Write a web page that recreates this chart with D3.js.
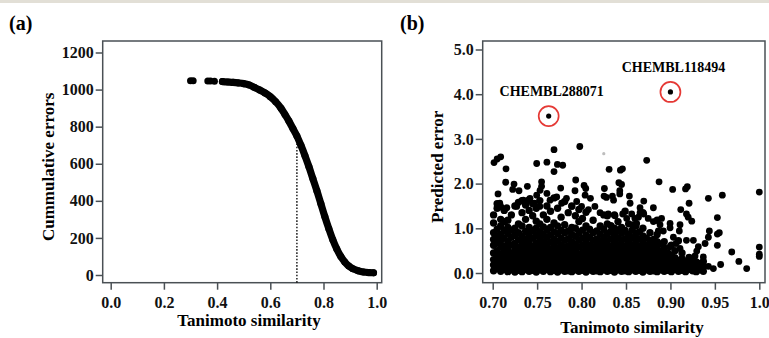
<!DOCTYPE html>
<html>
<head>
<meta charset="utf-8">
<script src="https://cdn.jsdelivr.net/npm/d3@7"></script>
<style>
  html, body { margin: 0; padding: 0; background: #fff; }
  svg { display: block; font-family: "Liberation Serif", "Times New Roman", serif; font-weight: bold; }
</style>
</head>
<body>
<svg id="chart" width="769" height="338"></svg>
<script>
// ---- panel (a): cumulative errors vs similarity ----
const curveIsolated = [[0.300, 1047], [0.310, 1047], [0.365, 1046], [0.375, 1046], [0.390, 1045]];
const curvePoints = [
  [0.420, 1043], [0.440, 1041], [0.460, 1039], [0.480, 1036], [0.500, 1032],
  [0.520, 1025], [0.540, 1012], [0.560, 998], [0.580, 982], [0.600, 962],
  [0.620, 935], [0.640, 900], [0.655, 866], [0.670, 830], [0.685, 790],
  [0.700, 750], [0.715, 700], [0.730, 645], [0.745, 585], [0.760, 520],
  [0.775, 455], [0.790, 385], [0.805, 315], [0.820, 250], [0.835, 190],
  [0.850, 140], [0.865, 100], [0.880, 70], [0.895, 48], [0.910, 34],
  [0.930, 23], [0.950, 16], [0.970, 13], [0.988, 12]
];
const cutoffSimilarity = 0.70;
const cutoffErrors = 750;
const ticksAx = [0, 0.2, 0.4, 0.6, 0.8, 1.0];
const ticksAy = [0, 200, 400, 600, 800, 1000, 1200];

// ---- panel (b): predicted error vs similarity ----
const scatterSparse = [
  [0.7015, 2.47], [0.705, 2.55], [0.709, 2.60], [0.715, 2.33], [0.7146, 2.03], [0.706, 1.77],
  [0.724, 1.99], [0.7225, 1.87], [0.7296, 1.84], [0.739, 1.94], [0.7495, 2.45], [0.761, 2.48],
  [0.769, 2.76], [0.769, 2.27], [0.7728, 2.43], [0.7788, 2.41], [0.7765, 1.90], [0.755, 2.04],
  [0.755, 1.94], [0.7533, 1.85], [0.7495, 1.74], [0.761, 1.78], [0.7934, 2.08], [0.798, 2.83],
  [0.7926, 1.84], [0.8028, 1.96], [0.8047, 1.89], [0.810, 1.67], [0.804, 1.74], [0.8257, 1.89],
  [0.831, 2.32], [0.8253, 1.72], [0.828, 1.69], [0.8347, 1.72], [0.836, 1.63], [0.8437, 2.30],
  [0.846, 2.33], [0.842, 2.02], [0.845, 1.98], [0.843, 1.84], [0.8538, 1.72], [0.843, 1.77],
  [0.8733, 2.52], [0.870, 1.61], [0.870, 1.32], [0.8808, 1.46], [0.8872, 2.04], [0.9025, 1.87],
  [0.917, 1.88], [0.919, 1.93], [0.921, 1.56], [0.918, 1.32], [0.920, 1.25], [0.924, 1.16],
  [0.9116, 1.42], [0.9427, 1.67], [0.9584, 1.74], [1.000, 1.81], [0.9528, 1.24], [0.955, 0.90],
  [0.9528, 0.87], [0.9438, 0.94], [0.9427, 0.80], [0.939, 0.66], [0.9314, 0.59], [0.9528, 0.62],
  [0.9565, 0.19], [0.969, 0.47], [0.977, 0.26], [0.9858, 0.10], [1.000, 0.58], [1.000, 0.42],
  [1.000, 0.37], [0.9108, 1.08], [0.910, 0.94], [0.9033, 0.80], [0.9063, 0.66], [0.9108, 0.55],
  [0.918, 0.73], [0.9258, 0.73], [0.9277, 0.38], [0.9314, 0.22], [0.937, 0.36], [0.9427, 0.15],
  [0.9483, 0.10], [0.935, 0.12], [0.9296, 0.49], [0.8996, 1.01], [0.899, 0.58], [0.896, 0.29],
  [0.9033, 0.22], [0.9108, 0.15], [0.920, 0.12], [0.926, 0.15], [0.890, 1.22], [0.892, 0.94],
  [0.8864, 0.94], [0.8808, 1.15], [0.8658, 1.46], [0.864, 1.25], [0.862, 1.11], [0.8564, 1.32],
  [0.858, 1.08], [0.8508, 1.22], [0.8546, 1.56],
  [0.708, 1.56], [0.716, 1.46], [0.727, 1.49], [0.7345, 1.63], [0.742, 1.67], [0.747, 1.56],
  [0.753, 1.49], [0.7645, 1.63], [0.772, 1.70], [0.7776, 1.56], [0.783, 1.67], [0.789, 1.49],
  [0.7945, 1.60], [0.800, 1.49], [0.8077, 1.42], [0.815, 1.49], [0.8208, 1.35], [0.830, 1.32],
  [0.8377, 1.28], [0.8463, 1.32], [0.860, 1.22], [0.8658, 1.35], [0.875, 1.22], [0.8883, 1.08],
  [0.8996, 1.11]
];
// dense mass near the bottom, read column by column
const scatterDense = [
  [0.701, [0.05, 0.18, 0.30, 0.45, 0.62, 0.75, 0.90, 1.12, 1.30]],
  [0.705, [0.10, 0.22, 0.36, 0.50, 0.68, 0.82, 0.98, 1.45, 1.55]],
  [0.709, [0.04, 0.15, 0.28, 0.42, 0.58, 0.72, 0.86, 1.05, 1.20, 1.48]],
  [0.713, [0.08, 0.20, 0.33, 0.47, 0.60, 0.78, 0.95, 1.15, 1.40]],
  [0.717, [0.03, 0.14, 0.26, 0.40, 0.55, 0.70, 0.88, 1.02, 1.18]],
  [0.721, [0.07, 0.19, 0.31, 0.45, 0.63, 0.80, 0.96, 1.30]],
  [0.725, [0.02, 0.12, 0.25, 0.38, 0.52, 0.66, 0.84, 1.00, 1.50]],
  [0.729, [0.06, 0.18, 0.30, 0.44, 0.57, 0.74, 0.90, 1.10, 1.58]],
  [0.733, [0.03, 0.15, 0.27, 0.40, 0.54, 0.68, 0.82, 1.05, 1.35, 1.62]],
  [0.737, [0.08, 0.21, 0.34, 0.48, 0.62, 0.76, 0.93, 1.20, 1.52]],
  [0.741, [0.04, 0.14, 0.26, 0.39, 0.55, 0.70, 0.86, 1.02, 1.40, 1.64]],
  [0.745, [0.06, 0.18, 0.32, 0.46, 0.60, 0.78, 0.95, 1.28, 1.55]],
  [0.749, [0.02, 0.13, 0.25, 0.38, 0.52, 0.67, 0.84, 1.00, 1.16, 1.45]],
  [0.753, [0.07, 0.20, 0.33, 0.47, 0.61, 0.77, 0.92, 1.10, 1.62]],
  [0.757, [0.04, 0.15, 0.28, 0.41, 0.56, 0.70, 0.86, 1.03, 1.30]],
  [0.761, [0.08, 0.22, 0.35, 0.50, 0.64, 0.80, 0.97, 1.20, 1.50]],
  [0.765, [0.03, 0.14, 0.26, 0.40, 0.54, 0.69, 0.85, 1.02, 1.38]],
  [0.769, [0.06, 0.18, 0.31, 0.45, 0.60, 0.75, 0.92, 1.12, 1.68]],
  [0.773, [0.02, 0.13, 0.27, 0.41, 0.55, 0.71, 0.88, 1.05, 1.45]],
  [0.777, [0.07, 0.20, 0.34, 0.48, 0.62, 0.78, 0.95, 1.25]],
  [0.781, [0.04, 0.16, 0.29, 0.43, 0.57, 0.73, 0.90, 1.08, 1.60]],
  [0.785, [0.05, 0.19, 0.32, 0.46, 0.61, 0.77, 0.94, 1.35]],
  [0.789, [0.03, 0.14, 0.27, 0.40, 0.55, 0.70, 0.86, 1.02, 1.50]],
  [0.793, [0.07, 0.21, 0.35, 0.50, 0.65, 0.82, 1.00, 1.28]],
  [0.797, [0.04, 0.15, 0.28, 0.42, 0.58, 0.74, 0.90, 1.15, 1.42]],
  [0.801, [0.06, 0.18, 0.31, 0.46, 0.62, 0.78, 0.96, 1.22]],
  [0.805, [0.02, 0.13, 0.26, 0.40, 0.54, 0.70, 0.85, 1.05, 1.36]],
  [0.809, [0.07, 0.20, 0.34, 0.48, 0.63, 0.80, 0.98]],
  [0.813, [0.04, 0.16, 0.29, 0.43, 0.58, 0.73, 0.90, 1.18]],
  [0.817, [0.05, 0.19, 0.32, 0.46, 0.61, 0.76, 0.94]],
  [0.821, [0.03, 0.14, 0.27, 0.41, 0.56, 0.71, 0.87, 1.05]],
  [0.825, [0.07, 0.21, 0.35, 0.49, 0.64, 0.80, 0.98, 1.30]],
  [0.829, [0.04, 0.15, 0.28, 0.42, 0.57, 0.72, 0.88, 1.10, 1.28]],
  [0.833, [0.06, 0.18, 0.31, 0.45, 0.60, 0.76, 0.93, 1.06]],
  [0.837, [0.02, 0.13, 0.26, 0.40, 0.55, 0.70, 0.85, 1.00, 1.30]],
  [0.841, [0.07, 0.20, 0.34, 0.48, 0.62, 0.78, 0.95, 1.15]],
  [0.845, [0.04, 0.16, 0.29, 0.43, 0.58, 0.73, 0.89, 1.02]],
  [0.849, [0.05, 0.19, 0.32, 0.46, 0.61, 0.77, 0.95, 1.38]],
  [0.853, [0.03, 0.14, 0.27, 0.41, 0.55, 0.70, 0.86, 1.10]],
  [0.857, [0.07, 0.21, 0.34, 0.48, 0.63, 0.79, 0.96]],
  [0.861, [0.04, 0.15, 0.28, 0.42, 0.57, 0.72, 0.88, 1.05]],
  [0.865, [0.06, 0.18, 0.31, 0.45, 0.60, 0.76, 0.92]],
  [0.869, [0.02, 0.13, 0.26, 0.40, 0.54, 0.68, 0.83, 1.00, 1.35]],
  [0.873, [0.07, 0.20, 0.33, 0.47, 0.62, 0.78]],
  [0.877, [0.04, 0.16, 0.29, 0.43, 0.57, 0.72, 0.90]],
  [0.881, [0.05, 0.19, 0.32, 0.46, 0.61, 0.75]],
  [0.885, [0.03, 0.14, 0.27, 0.40, 0.55, 0.70, 0.86, 1.18]],
  [0.889, [0.07, 0.21, 0.34, 0.48, 0.65]],
  [0.893, [0.04, 0.16, 0.29, 0.42, 0.56, 0.70]],
  [0.897, [0.06, 0.18, 0.31, 0.45]],
  [0.901, [0.03, 0.13, 0.26, 0.40, 0.62]],
  [0.905, [0.08, 0.20, 0.34, 0.50]],
  [0.909, [0.04, 0.15, 0.28, 0.72]],
  [0.913, [0.06, 0.19, 0.32, 0.45]],
  [0.917, [0.03, 0.14, 0.26]],
  [0.921, [0.08, 0.20, 0.35]],
  [0.925, [0.05, 0.16, 0.28]],
  [0.929, [0.03, 0.12, 0.25]],
  [0.933, [0.07, 0.18]],
  [0.937, [0.04, 0.15, 0.26]]
];
const highlighted = [
  { id: 'CHEMBL288071', sim: 0.763, err: 3.51 },
  { id: 'CHEMBL118494', sim: 0.900, err: 4.05 }
];
const fadedPoint = [0.825, 2.67];
const ticksBx = [0.70, 0.75, 0.80, 0.85, 0.90, 0.95, 1.0];
const ticksBxLabels = ['0.70', '0.75', '0.80', '0.85', '0.90', '0.95', '1.0'];
const ticksBy = [0, 1, 2, 3, 4, 5];

const svg = d3.select('#chart');
const frameColor = '#4a5055';

// thin grey strip at the very top
svg.append('rect').attr('x', 0).attr('y', 0).attr('width', 769).attr('height', 3).attr('fill', '#e2dfd6');

function drawFrame(box) {
  svg.append('rect')
    .attr('x', box.left).attr('y', box.top)
    .attr('width', box.right - box.left).attr('height', box.bottom - box.top)
    .attr('fill', 'none').attr('stroke', frameColor).attr('stroke-width', 1.5);
}

function styleAxis(g) {
  g.select('.domain').remove();
  g.selectAll('.tick line').attr('stroke', frameColor).attr('stroke-width', 1.5);
  g.selectAll('.tick text')
    .attr('fill', '#111')
    .style('font-family', '"Liberation Serif", "Times New Roman", serif')
    .style('font-weight', 'bold')
    .style('font-size', '16px');
}

// ---------- panel (a) ----------
const boxA = { left: 102.7, right: 381.7, top: 41, bottom: 282.7 };
const xA = d3.scaleLinear().domain([0, 1]).range([110.7, 376.7]);
const yA = d3.scaleLinear().domain([0, 1200]).range([275, 52.5]);

drawFrame(boxA);

svg.append('g')
  .attr('transform', `translate(0,${boxA.bottom})`)
  .call(d3.axisBottom(xA).tickValues(ticksAx).tickFormat(d3.format('.1f')).tickSize(7).tickPadding(7))
  .call(styleAxis);

svg.append('g')
  .attr('transform', `translate(${boxA.left},0)`)
  .call(d3.axisLeft(yA).tickValues(ticksAy).tickFormat(d3.format('d')).tickSize(7).tickPadding(2))
  .call(styleAxis);

// dotted cut-off
svg.append('line')
  .attr('x1', xA(cutoffSimilarity)).attr('x2', xA(cutoffSimilarity))
  .attr('y1', boxA.bottom).attr('y2', yA(cutoffErrors))
  .attr('stroke', '#111').attr('stroke-width', 1.4).attr('stroke-dasharray', '1.6,1.6');

// dense run of points drawn as a thick trace, plus the points themselves
svg.append('path')
  .datum(curvePoints)
  .attr('d', d3.line().x(d => xA(d[0])).y(d => yA(d[1])).curve(d3.curveMonotoneX))
  .attr('fill', 'none').attr('stroke', '#000').attr('stroke-width', 7.2)
  .attr('stroke-linecap', 'round').attr('stroke-linejoin', 'round');

svg.append('g').selectAll('circle')
  .data(curveIsolated.concat(curvePoints))
  .enter().append('circle')
  .attr('cx', d => xA(d[0])).attr('cy', d => yA(d[1])).attr('r', 3.5)
  .attr('fill', '#000');

svg.append('text').attr('x', 9).attr('y', 30).style('font-size', '20px').text('(a)');
svg.append('text')
  .attr('transform', `translate(54,${(boxA.top + boxA.bottom) / 2 + 5}) rotate(-90)`)
  .attr('text-anchor', 'middle').style('font-size', '17px').text('Cummulative errors');
svg.append('text')
  .attr('x', 249).attr('y', 326)
  .attr('text-anchor', 'middle').style('font-size', '17px').text('Tanimoto similarity');

// ---------- panel (b) ----------
const boxB = { left: 482.7, right: 765, top: 41, bottom: 282.7 };
const xB = d3.scaleLinear().domain([0.70, 1.0]).range([492.7, 759.3]);
const yB = d3.scaleLinear().domain([0, 5]).range([273, 49.5]);

drawFrame(boxB);

svg.append('g')
  .attr('transform', `translate(0,${boxB.bottom})`)
  .call(d3.axisBottom(xB).tickValues(ticksBx).tickFormat((d, i) => ticksBxLabels[i]).tickSize(7).tickPadding(7))
  .call(styleAxis);

svg.append('g')
  .attr('transform', `translate(${boxB.left},0)`)
  .call(d3.axisLeft(yB).tickValues(ticksBy).tickFormat(d3.format('.1f')).tickSize(7).tickPadding(2))
  .call(styleAxis);

const densePoints = scatterDense.flatMap(([s, errs]) => errs.map(e => [s, e]));

svg.append('g').selectAll('circle')
  .data(densePoints)
  .enter().append('circle')
  .attr('cx', d => xB(d[0])).attr('cy', d => yB(d[1])).attr('r', 3.7)
  .attr('fill', '#000');

svg.append('g').selectAll('circle')
  .data(scatterSparse)
  .enter().append('circle')
  .attr('cx', d => xB(d[0])).attr('cy', d => yB(d[1])).attr('r', 3.4)
  .attr('fill', '#000');

svg.append('circle')
  .attr('cx', xB(fadedPoint[0])).attr('cy', yB(fadedPoint[1])).attr('r', 1.6)
  .attr('fill', '#bdbdbd');

const hl = svg.append('g').selectAll('g').data(highlighted).enter().append('g');
hl.append('circle')
  .attr('cx', d => xB(d.sim)).attr('cy', d => yB(d.err)).attr('r', 10)
  .attr('fill', 'none').attr('stroke', '#e53935').attr('stroke-width', 1.7);
hl.append('circle')
  .attr('cx', d => xB(d.sim)).attr('cy', d => yB(d.err)).attr('r', 2.6)
  .attr('fill', '#000');
hl.append('text')
  .attr('x', d => xB(d.sim) + 3).attr('y', d => yB(d.err) - 20)
  .attr('text-anchor', 'middle').style('font-size', '14px')
  .text(d => d.id);

svg.append('text').attr('x', 400).attr('y', 30).style('font-size', '20px').text('(b)');
svg.append('text')
  .attr('transform', `translate(443,${(boxB.top + boxB.bottom) / 2 + 5}) rotate(-90)`)
  .attr('text-anchor', 'middle').style('font-size', '17px').text('Predicted error');
svg.append('text')
  .attr('x', 632).attr('y', 333)
  .attr('text-anchor', 'middle').style('font-size', '17px').text('Tanimoto similarity');
</script>
</body>
</html>
